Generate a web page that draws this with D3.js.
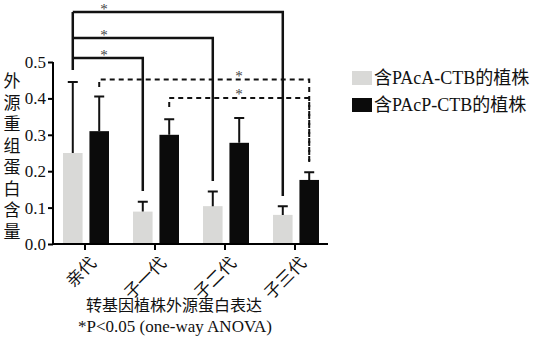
<!DOCTYPE html>
<html>
<head>
<meta charset="utf-8">
<script src="https://cdn.jsdelivr.net/npm/d3@7"></script>
<style>
  body { margin: 0; background: #fff; }
  svg text { font-family: "Liberation Serif", "Noto Sans CJK SC", serif; fill: #111; }
</style>
</head>
<body>
<div id="chart"></div>
<script>
// data
var generations = ["亲代", "子一代", "子二代", "子三代"];
var seriesNames = ["含PAcA-CTB的植株", "含PAcP-CTB的植株"];
var pacaMeans = [0.25, 0.089, 0.104, 0.08];
var pacaErr   = [0.195, 0.027, 0.04, 0.024];
var pacpMeans = [0.31, 0.30, 0.278, 0.176];
var pacpErr   = [0.095, 0.043, 0.068, 0.021];
var yTicks = [0.0, 0.1, 0.2, 0.3, 0.4, 0.5];
var colors = ["#d9d9d7", "#0b0b0b"];
// significance: [from group, to group]
var solidPairs = [[0, 3], [0, 2], [0, 1]];
var dashedPairs = [[0, 3], [1, 3]];

var width = 533, height = 341;
var svg = d3.select("#chart").append("svg")
  .attr("width", width).attr("height", height);

var y = d3.scaleLinear().domain([0, 0.5]).range([244, 62]);
var x0 = d3.scaleBand().domain(generations).range([50, 330]).padding(0);
var x1 = d3.scaleBand().domain([0, 1]).range([13, 59]).paddingInner(0.26);

var rows = generations.map(function(g, i){
  return [
    {g: g, s: 0, v: pacaMeans[i], e: pacaErr[i]},
    {g: g, s: 1, v: pacpMeans[i], e: pacpErr[i]}
  ];
});
function cx(gi, s){ return x0(generations[gi]) + x1(s) + x1.bandwidth() / 2; }

// bars
var grp = svg.selectAll(".grp").data(rows).enter().append("g")
  .attr("transform", function(d){ return "translate(" + x0(d[0].g) + ",0)"; });
grp.selectAll("rect").data(function(d){ return d; }).enter().append("rect")
  .attr("x", function(d){ return x1(d.s); })
  .attr("width", x1.bandwidth())
  .attr("y", function(d){ return y(d.v); })
  .attr("height", function(d){ return y(0) - y(d.v); })
  .attr("fill", function(d){ return colors[d.s]; });

// upper error bars
grp.selectAll(".err").data(function(d){ return d; }).enter().append("path")
  .attr("fill", "none").attr("stroke", "#111").attr("stroke-width", 2)
  .attr("d", function(d){
    var c = x1(d.s) + x1.bandwidth() / 2;
    return "M" + c + "," + y(d.v) + "V" + y(d.v + d.e) + "M" + (c - 5) + "," + y(d.v + d.e) + "H" + (c + 5);
  });

// axes
var yAxis = svg.append("g").attr("transform", "translate(53,0)")
  .call(d3.axisLeft(y).tickValues(yTicks).tickFormat(d3.format(".1f")).tickSize(5).tickPadding(2));
yAxis.select(".domain").attr("stroke-width", 2).attr("d", "M0," + y(0) + "V" + y(0.5));
yAxis.selectAll(".tick line").attr("stroke-width", 2);
yAxis.selectAll("text").attr("font-size", 17);

var xAxis = svg.append("g").attr("transform", "translate(0,244)")
  .call(d3.axisBottom(x0).tickSize(6).tickSizeOuter(0));
xAxis.select(".domain").attr("stroke-width", 2).attr("d", "M52,0H328");
xAxis.selectAll(".tick line").attr("stroke-width", 2);
xAxis.selectAll("text").attr("font-size", 17)
  .attr("text-anchor", "end").attr("dy", "0.35em")
  .attr("transform", "translate(8,16) rotate(-45)").attr("y", 0);

// y title, vertical characters
svg.append("text").attr("font-size", 17).attr("text-anchor", "middle")
  .selectAll("tspan").data("外源重组蛋白含量".split("")).enter().append("tspan")
  .attr("x", 12).attr("y", function(d, i){ return 87 + i * 21.5; })
  .text(function(d){ return d; });

// solid brackets
var solidTops = [12, 38, 58];
var solidEnds = [196, 181, 191];
var leftX = cx(0, 0);
svg.append("path").attr("fill", "none").attr("stroke", "#111").attr("stroke-width", 2.5)
  .attr("d", "M" + leftX + ",70V" + solidTops[0]);
solidPairs.forEach(function(p, i){
  var rx = cx(p[1], 0);
  svg.append("path").attr("fill", "none").attr("stroke", "#111").attr("stroke-width", 2.5)
    .attr("d", "M" + leftX + "," + solidTops[i] + "H" + rx + "V" + solidEnds[i]);
  svg.append("text").attr("x", 104).attr("y", solidTops[i] + 2).attr("font-size", 15)
    .attr("text-anchor", "middle").style("fill", "#444").text("*");
});

// dashed brackets
var dashTops = [79.5, 98];
var dashStarts = [87, 107];
dashedPairs.forEach(function(p, i){
  var lx = cx(p[0], 1), rx = cx(p[1], 1);
  svg.append("path").attr("fill", "none").attr("stroke", "#111").attr("stroke-width", 2)
    .attr("stroke-dasharray", "5,4")
    .attr("d", "M" + lx + "," + dashStarts[i] + "V" + dashTops[i] + "H" + rx + "V" + 162);
  svg.append("text").attr("x", 239).attr("y", dashTops[i] + 1).attr("font-size", 15)
    .attr("text-anchor", "middle").style("fill", "#444").text("*");
});

// legend
var leg = svg.append("g").attr("transform", "translate(352,71)");
seriesNames.forEach(function(n, i){
  leg.append("rect").attr("x", 0).attr("y", i * 27).attr("width", 20).attr("height", 14)
    .attr("fill", colors[i]);
  leg.append("text").attr("x", 22).attr("y", i * 27 + 7).attr("dy", "0.35em")
    .attr("font-size", 18).text(n);
});

// bottom titles
svg.append("text").attr("x", 174).attr("y", 311).attr("text-anchor", "middle")
  .attr("font-size", 16).text("转基因植株外源蛋白表达");
svg.append("text").attr("x", 175).attr("y", 332).attr("text-anchor", "middle")
  .attr("font-size", 17).text("*P<0.05 (one-way ANOVA)");
</script>
</body>
</html>
